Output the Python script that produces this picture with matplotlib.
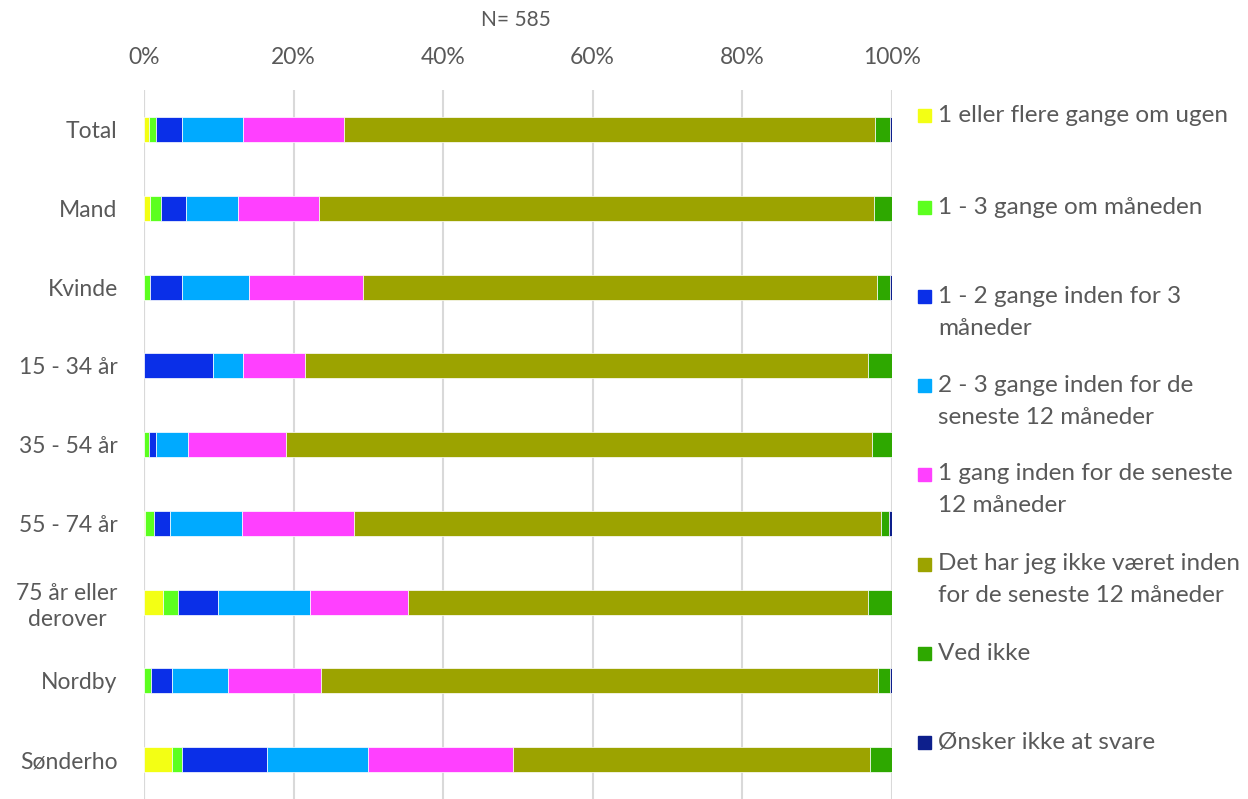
import matplotlib.pyplot as plt
import numpy as np

plt.rcParams['font.family'] = ['Lato', 'DejaVu Sans']

groups = ['Total', 'Mand', 'Kvinde', '15 - 34 år', '35 - 54 år', '55 - 74 år',
          '75 år eller\nderover', 'Nordby', 'Sønderho']

series = ['1 eller flere gange om ugen',
          '1 - 3 gange om måneden',
          '1 - 2 gange inden for 3\nmåneder',
          '2 - 3 gange inden for de\nseneste 12 måneder',
          '1 gang inden for de seneste\n12 måneder',
          'Det har jeg ikke været inden\nfor de seneste 12 måneder',
          'Ved ikke',
          'Ønsker ikke at svare']

colors = ['#F3FF14', '#5CFF1F', '#0A2FE8', '#00AAFF', '#FF40FF',
          '#9CA300', '#2EA800', '#0D1F8C']

# percentages per group, one list per answer category
ugen =      [0.7, 0.8, 0.0, 0.0, 0.0, 0.15, 2.55, 0.0, 3.8]
maaned =    [0.95, 1.5, 0.8, 0.0, 0.6, 1.2, 1.95, 0.9, 1.3]
tre_mdr =   [3.45, 3.3, 4.25, 9.2, 1.0, 2.15, 5.4, 2.85, 11.4]
to_tre =    [8.2, 7.0, 9.05, 4.0, 4.3, 9.6, 12.3, 7.45, 13.5]
en_gang =   [13.4, 10.8, 15.2, 8.4, 13.1, 15.0, 13.1, 12.5, 19.3]
ikke =      [71.1, 74.2, 68.8, 75.2, 78.4, 70.5, 61.5, 74.5, 47.8]
ved_ikke =  [2.0, 2.4, 1.7, 3.2, 2.6, 1.1, 3.2, 1.6, 2.9]
oensker =   [0.2, 0.0, 0.2, 0.0, 0.0, 0.3, 0.0, 0.2, 0.0]

values = [ugen, maaned, tre_mdr, to_tre, en_gang, ikke, ved_ikke, oensker]

fig = plt.figure(figsize=(12.48, 7.99), dpi=100)
ax = fig.add_axes([0.1154, 0.0, 0.599, 0.887])

y = np.arange(len(groups))
left = np.zeros(len(groups))
for vals, col in zip(values, colors):
    vals = np.array(vals)
    ax.barh(y, vals, left=left, height=0.32, color=col, edgecolor='white', linewidth=0.5, zorder=3)
    left += vals

ax.set_xlim(0, 100)
ax.set_ylim(len(groups) - 0.5, -0.5)
ax.xaxis.tick_top()
ax.set_xticks(np.arange(0, 101, 20))
ax.set_xticklabels([f'{t}%' for t in range(0, 101, 20)])
ax.set_yticks(y)
ax.set_yticklabels(groups, multialignment='center', linespacing=1.3)
ax.tick_params(axis='both', length=0, labelsize=16.5, colors='#595959')
ax.tick_params(axis='y', pad=19)
ax.tick_params(axis='x', pad=16)
ax.grid(axis='x', color='#D9D9D9', linewidth=1.5, zorder=0)
for s in ax.spines.values():
    s.set_visible(False)
ax.axvline(0, color='#D9D9D9', linewidth=1.5, zorder=1)

fig.text(0.413, 0.975, 'N= 585', fontsize=15, color='#595959', ha='center', va='center')

# legend drawn by hand so each entry sits in an equal slot
leg_y = [115, 207, 296, 385, 474, 564, 653, 742]
for lab, col, yy in zip(series, colors, leg_y):
    fig.patches.append(plt.Rectangle((918 / 1248, 1 - (yy + 7) / 799), 13 / 1248, 13 / 799,
                                     transform=fig.transFigure, color=col))
    for k, line in enumerate(lab.split('\n')):
        fig.text(938 / 1248, 1 - (yy + 32 * k) / 799, line, fontsize=17.5, color='#595959',
                 ha='left', va='center')

fig.savefig('out.png', dpi=100)
